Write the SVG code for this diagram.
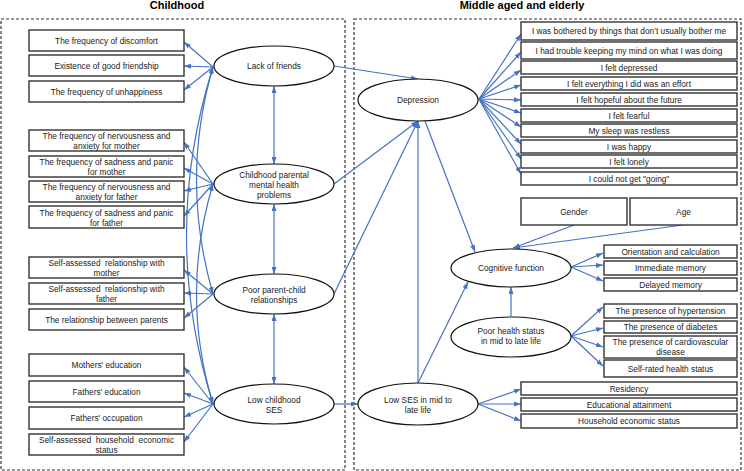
<svg xmlns="http://www.w3.org/2000/svg" width="744" height="471" viewBox="0 0 744 471">
<style>
.panel{fill:none;stroke:#333;stroke-width:1.2;stroke-dasharray:3,2}
.title{font-family:"Liberation Sans",Arial,sans-serif;font-size:11px;font-weight:bold;fill:#000;text-anchor:middle}
.box rect{fill:#fff;stroke:#333;stroke-width:1.4}
.t{font-family:"Liberation Sans",Arial,sans-serif;font-size:8.3px;fill:#222;text-anchor:middle;white-space:pre}
.lat ellipse{fill:#fff;stroke:#111;stroke-width:1.2}
.c path{fill:none;stroke:#4472C4;stroke-width:1.2}
</style>
<defs>
<marker id="ah" viewBox="0 0 7 5" refX="7" refY="2.5" markerWidth="7" markerHeight="5" markerUnits="userSpaceOnUse" orient="auto-start-reverse">
<path d="M0,0 L7,2.5 L0,5 z" fill="#4472C4"/>
</marker>
</defs>
<rect width="744" height="471" fill="#fff"/>
<text class="title" x="177" y="9">Childhood</text>
<text class="title" x="522" y="9">Middle aged and elderly</text>
<rect class="panel" x="1" y="19" width="344" height="451"/>
<rect class="panel" x="354" y="19" width="387" height="451"/>

<g class="c" id="connectors">
<!-- left indicators -->
<path d="M213,67 L184,42" marker-end="url(#ah)"/>
<path d="M213,67 L184,66" marker-end="url(#ah)"/>
<path d="M213,67 L184,90" marker-end="url(#ah)"/>
<path d="M213,184 L184,142" marker-end="url(#ah)"/>
<path d="M213,184 L184,168" marker-end="url(#ah)"/>
<path d="M213,184 L184,191" marker-end="url(#ah)"/>
<path d="M213,184 L184,216" marker-end="url(#ah)"/>
<path d="M213,294 L184,270" marker-end="url(#ah)"/>
<path d="M213,294 L184,293" marker-end="url(#ah)"/>
<path d="M213,294 L184,318" marker-end="url(#ah)"/>
<path d="M213,404 L184,367" marker-end="url(#ah)"/>
<path d="M213,404 L184,393" marker-end="url(#ah)"/>
<path d="M213,404 L184,417" marker-end="url(#ah)"/>
<path d="M213,404 L184,442" marker-end="url(#ah)"/>
<!-- covariance curves -->
<path d="M213,67 Q160,235 213,404" marker-start="url(#ah)" marker-end="url(#ah)"/>
<path d="M213,67 Q180,180 213,294" marker-start="url(#ah)" marker-end="url(#ah)"/>
<path d="M213,184 Q180,294 213,404" marker-start="url(#ah)" marker-end="url(#ah)"/>
<!-- vertical double arrows -->
<path d="M274,86 L274,164" marker-start="url(#ah)" marker-end="url(#ah)"/>
<path d="M274,204 L274,274" marker-start="url(#ah)" marker-end="url(#ah)"/>
<path d="M274,314 L274,384" marker-start="url(#ah)" marker-end="url(#ah)"/>
<!-- structural paths -->
<path d="M334,66 L418,79" marker-end="url(#ah)"/>
<path d="M334,184 L418,121" marker-end="url(#ah)"/>
<path d="M334,294 L418,121" marker-end="url(#ah)"/>
<path d="M418,383 L418,121" marker-end="url(#ah)"/>
<path d="M334,404 L358,404" marker-end="url(#ah)"/>
<path d="M418,383 L468,282" marker-end="url(#ah)"/>
<path d="M425,121 L475,252" marker-end="url(#ah)"/>
<path d="M511,316 L511,287" marker-end="url(#ah)"/>
<path d="M574,225 L513,248" marker-end="url(#ah)"/>
<path d="M683,225 L513,248" marker-end="url(#ah)"/>
<!-- depression indicators -->
<path d="M479,99 L521,34" marker-end="url(#ah)"/>
<path d="M479,99 L521,52" marker-end="url(#ah)"/>
<path d="M479,99 L521,70" marker-end="url(#ah)"/>
<path d="M479,99 L521,85" marker-end="url(#ah)"/>
<path d="M479,99 L521,100" marker-end="url(#ah)"/>
<path d="M479,99 L521,113" marker-end="url(#ah)"/>
<path d="M479,99 L521,127" marker-end="url(#ah)"/>
<path d="M479,99 L521,144" marker-end="url(#ah)"/>
<path d="M479,99 L521,159" marker-end="url(#ah)"/>
<path d="M479,99 L521,174" marker-end="url(#ah)"/>
<!-- cognitive indicators -->
<path d="M571,267 L603,253" marker-end="url(#ah)"/>
<path d="M571,267 L603,265" marker-end="url(#ah)"/>
<path d="M571,267 L603,281" marker-end="url(#ah)"/>
<!-- health indicators -->
<path d="M571,336 L603,307" marker-end="url(#ah)"/>
<path d="M571,336 L603,328" marker-end="url(#ah)"/>
<path d="M571,336 L603,347" marker-end="url(#ah)"/>
<path d="M571,336 L603,366" marker-end="url(#ah)"/>
<!-- SES mid indicators -->
<path d="M478,404 L521,389" marker-end="url(#ah)"/>
<path d="M478,404 L521,404" marker-end="url(#ah)"/>
<path d="M478,404 L521,421" marker-end="url(#ah)"/>
</g>

<!-- latent variables -->
<g class="lat" id="lack-of-friends"><ellipse cx="274" cy="66" rx="60" ry="20"/><text class="t" x="274" y="69">Lack of friends</text></g>
<g class="lat" id="parental-mental-health"><ellipse cx="274" cy="184" rx="60" ry="20"/><text class="t" x="274" y="178">Childhood parental</text><text class="t" x="274" y="188">mental health</text><text class="t" x="274" y="198">problems</text></g>
<g class="lat" id="parent-child"><ellipse cx="274" cy="294" rx="60" ry="20"/><text class="t" x="274" y="293">Poor parent-child</text><text class="t" x="274" y="303">relationships</text></g>
<g class="lat" id="low-childhood-ses"><ellipse cx="274" cy="404" rx="60" ry="20"/><text class="t" x="274" y="403">Low childhood</text><text class="t" x="274" y="413">SES</text></g>
<g class="lat" id="depression"><ellipse cx="418" cy="100" rx="60" ry="21"/><text class="t" x="418" y="103">Depression</text></g>
<g class="lat" id="cognitive"><ellipse cx="511" cy="268" rx="60" ry="19"/><text class="t" x="511" y="271">Cognitive function</text></g>
<g class="lat" id="poor-health"><ellipse cx="511" cy="337" rx="60" ry="20"/><text class="t" x="511" y="334">Poor health status</text><text class="t" x="511" y="344">in mid to late life</text></g>
<g class="lat" id="low-ses-mid"><ellipse cx="418" cy="404" rx="60" ry="21"/><text class="t" x="418" y="403">Low SES in mid to</text><text class="t" x="418" y="413">late life</text></g>

<!-- left indicator boxes -->
<g class="box" id="b-discomfort"><rect x="29" y="30" width="155" height="21"/><text class="t" x="106.5" y="43.5">The frequency of discomfort</text></g>
<g class="box" id="b-friendship"><rect x="29" y="55" width="155" height="21"/><text class="t" x="106.5" y="68.5">Existence of good friendship</text></g>
<g class="box" id="b-unhappiness"><rect x="29" y="81" width="155" height="21"/><text class="t" x="106.5" y="94.5">The frequency of unhappiness</text></g>
<g class="box" id="b-nerv-mother"><rect x="29" y="130" width="155" height="21"/><text class="t" x="106.5" y="139">The frequency of nervousness and</text><text class="t" x="106.5" y="149">anxiety for mother</text></g>
<g class="box" id="b-sad-mother"><rect x="29" y="156" width="155" height="21"/><text class="t" x="106.5" y="165">The frequency of sadness and panic</text><text class="t" x="106.5" y="175">for mother</text></g>
<g class="box" id="b-nerv-father"><rect x="29" y="181" width="155" height="21"/><text class="t" x="106.5" y="190">The frequency of nervousness and</text><text class="t" x="106.5" y="200">anxiety for father</text></g>
<g class="box" id="b-sad-father"><rect x="29" y="206" width="155" height="22"/><text class="t" x="106.5" y="215.5">The frequency of sadness and panic</text><text class="t" x="106.5" y="225.5">for father</text></g>
<g class="box" id="b-rel-mother"><rect x="29" y="257" width="155" height="21"/><text class="t" x="106.5" y="266">Self-assessed  relationship with</text><text class="t" x="106.5" y="276">mother</text></g>
<g class="box" id="b-rel-father"><rect x="29" y="283" width="155" height="21"/><text class="t" x="106.5" y="292">Self-assessed  relationship with</text><text class="t" x="106.5" y="302">father</text></g>
<g class="box" id="b-rel-parents"><rect x="29" y="309" width="155" height="21"/><text class="t" x="106.5" y="322.5">The relationship between parents</text></g>
<g class="box" id="b-mother-edu"><rect x="29" y="354" width="155" height="22"/><text class="t" x="106.5" y="368">Mothers' education</text></g>
<g class="box" id="b-father-edu"><rect x="29" y="381" width="155" height="21"/><text class="t" x="106.5" y="394.5">Fathers' education</text></g>
<g class="box" id="b-father-occ"><rect x="29" y="407" width="155" height="22"/><text class="t" x="106.5" y="421">Fathers' occupation</text></g>
<g class="box" id="b-household"><rect x="29" y="434" width="155" height="21"/><text class="t" x="106.5" y="443">Self-assessed  household  economic</text><text class="t" x="106.5" y="453">status</text></g>

<!-- depression indicator boxes -->
<g class="box" id="d1"><rect x="521" y="22" width="216" height="18"/><text class="t" x="629" y="34">I was bothered by things that don’t usually bother me</text></g>
<g class="box" id="d2"><rect x="521" y="42" width="216" height="17"/><text class="t" x="629" y="53.5">I had trouble keeping my mind on what I was doing</text></g>
<g class="box" id="d3"><rect x="521" y="61" width="216" height="13"/><text class="t" x="629" y="70.5">I felt depressed</text></g>
<g class="box" id="d4"><rect x="521" y="77" width="216" height="13"/><text class="t" x="629" y="86.5">I felt everything I did was an effort</text></g>
<g class="box" id="d5"><rect x="521" y="93" width="216" height="13"/><text class="t" x="629" y="102.5">I felt hopeful about the future</text></g>
<g class="box" id="d6"><rect x="521" y="109" width="216" height="13"/><text class="t" x="629" y="118.5">I felt fearful</text></g>
<g class="box" id="d7"><rect x="521" y="124" width="216" height="13"/><text class="t" x="629" y="133.5">My sleep was restless</text></g>
<g class="box" id="d8"><rect x="521" y="140" width="216" height="13"/><text class="t" x="629" y="149.5">I was happy</text></g>
<g class="box" id="d9"><rect x="521" y="155" width="216" height="13"/><text class="t" x="629" y="164.5">I felt lonely</text></g>
<g class="box" id="d10"><rect x="521" y="172" width="216" height="13"/><text class="t" x="629" y="181.5">I could not get "going"</text></g>

<!-- covariates -->
<g class="box" id="gender"><rect x="521" y="198" width="106" height="27"/><text class="t" x="574" y="214.5">Gender</text></g>
<g class="box" id="age"><rect x="630" y="198" width="107" height="27"/><text class="t" x="683.5" y="214.5">Age</text></g>

<!-- cognitive indicator boxes -->
<g class="box" id="c1"><rect x="604" y="245" width="133" height="13"/><text class="t" x="670.5" y="254.5">Orientation and calculation</text></g>
<g class="box" id="c2"><rect x="604" y="261" width="133" height="14"/><text class="t" x="670.5" y="271">Immediate memory</text></g>
<g class="box" id="c3"><rect x="604" y="278" width="133" height="13"/><text class="t" x="670.5" y="287.5">Delayed memory</text></g>

<!-- health indicator boxes -->
<g class="box" id="h1"><rect x="604" y="304" width="133" height="14"/><text class="t" x="670.5" y="314">The presence of hypertension</text></g>
<g class="box" id="h2"><rect x="604" y="321" width="133" height="12"/><text class="t" x="670.5" y="330">The presence of diabetes</text></g>
<g class="box" id="h3"><rect x="604" y="336" width="133" height="22"/><text class="t" x="670.5" y="345">The presence of cardiovascular</text><text class="t" x="670.5" y="355">disease</text></g>
<g class="box" id="h4"><rect x="604" y="360" width="133" height="17"/><text class="t" x="670.5" y="372">Self-rated health status</text></g>

<!-- SES mid indicator boxes -->
<g class="box" id="s1"><rect x="521" y="382" width="216" height="13"/><text class="t" x="629" y="391.5">Residency</text></g>
<g class="box" id="s2"><rect x="521" y="398" width="216" height="13"/><text class="t" x="629" y="407.5">Educational attainment</text></g>
<g class="box" id="s3"><rect x="521" y="414" width="216" height="14"/><text class="t" x="629" y="424">Household economic status</text></g>
</svg>
